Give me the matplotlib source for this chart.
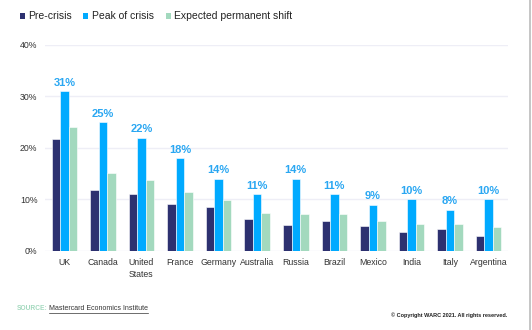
import matplotlib.pyplot as plt
import numpy as np
from matplotlib.lines import Line2D
from matplotlib.patches import Rectangle

countries = ["UK", "Canada", "United\nStates", "France", "Germany", "Australia",
             "Russia", "Brazil", "Mexico", "India", "Italy", "Argentina"]
pre_crisis = [21.8, 11.9, 11.0, 9.1, 8.6, 6.2, 5.0, 5.9, 4.8, 3.6, 4.2, 2.9]
peak_of_crisis = [31, 25, 22, 18, 14, 11, 14, 11, 9, 10, 8, 10]
expected_shift = [24.1, 15.2, 13.7, 11.5, 9.9, 7.4, 7.2, 7.2, 5.8, 5.2, 5.2, 4.7]
series_names = ["Pre-crisis", "Peak of crisis", "Expected permanent shift"]
y_ticks = [0, 10, 20, 30, 40]

c_pre = "#2D3170"
c_peak = "#00AAFF"
c_exp = "#A3D9BE"
c_label = "#2AA7F2"
c_grid = "#EEEEF6"
c_text = "#333333"

plt.rcParams["font.family"] = ["Liberation Sans", "DejaVu Sans"]

W, H = 532, 330
fig = plt.figure(figsize=(W / 100, H / 100), dpi=100)
ax = fig.add_axes([45 / W, 1 - 251 / H, 463 / W, (251 - 44.7) / H])

x = np.arange(len(countries))
w = 0.22
ax.bar(x - w, pre_crisis, w, color=c_pre, edgecolor="white", linewidth=0.4, zorder=3)
ax.bar(x, peak_of_crisis, w, color=c_peak, edgecolor="white", linewidth=0.4, zorder=3)
ax.bar(x + w, expected_shift, w, color=c_exp, edgecolor="white", linewidth=0.4, zorder=3)

for xi, v in zip(x, peak_of_crisis):
    ax.annotate(f"{v}%", (xi, v), xytext=(0, 2.5), textcoords="offset points",
                ha="center", va="bottom", color=c_label, fontsize=8,
                fontweight="bold")

ax.set_xlim(-0.5, len(countries) - 0.5)
ax.set_ylim(0, 40)
ax.set_yticks(y_ticks)
ax.set_yticklabels([f"{t}%" for t in y_ticks])
ax.set_xticks(x)
ax.set_xticklabels(countries, linespacing=1.4)
ax.tick_params(axis="both", length=0, labelsize=6.3, colors=c_text)
ax.tick_params(axis="y", pad=5.5)
ax.tick_params(axis="x", pad=5)
for s in ax.spines.values():
    s.set_visible(False)
ax.grid(axis="y", color=c_grid, linewidth=1.0, zorder=0)
ax.set_axisbelow(True)

# legend row: square swatch followed by its label
legend_y = 16
for sq_x, txt_x, col, name in zip([19.5, 82.5, 165.5], [28, 92, 174],
                                  [c_pre, c_peak, c_exp], series_names):
    fig.add_artist(Rectangle((sq_x / W, (H - legend_y - 2.6) / H), 5.2 / W, 5.2 / H,
                             transform=fig.transFigure, color=col, lw=0))
    fig.text(txt_x / W, 1 - legend_y / H, name, color="#222222", fontsize=7.5,
             va="center", ha="left")

fig.text(48 / W, 1 - 309 / H, "SOURCE:", color=c_exp, fontsize=4.8,
         fontweight="bold", va="center", ha="right")
src = fig.text(49 / W, 1 - 309 / H, "Mastercard Economics Institute",
               color=c_text, fontsize=5.0, va="center", ha="left")
fig.canvas.draw()
bb = src.get_window_extent()
fig.add_artist(Line2D([bb.x0 / W, bb.x1 / W],
                      [(bb.y0 - 0.3) / H, (bb.y0 - 0.3) / H],
                      color=c_text, linewidth=0.5))

fig.text(507 / W, 1 - 315 / H, "© Copyright WARC 2021. All rights reserved.",
         color="#222222", fontsize=4.0, fontweight="bold", va="center", ha="right")

fig.add_artist(Line2D([530 / W, 530 / W], [0, 1], color="#BBBBBB", linewidth=1.2))

fig.savefig("out.png", dpi=100)
